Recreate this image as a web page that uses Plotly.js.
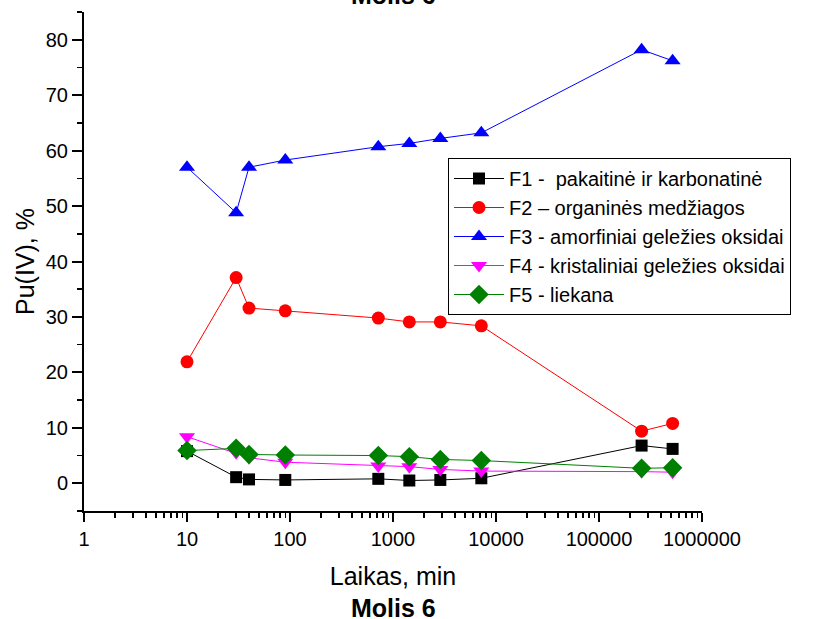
<!DOCTYPE html>
<html><head><meta charset="utf-8">
<script src="https://cdn.plot.ly/plotly-3.0.1.min.js"></script>
<style>body{margin:0;padding:0;background:#fff}#chart{width:822px;height:619px}</style>
</head><body><div id="chart"></div>
<script>
const time = [10, 30, 40, 90, 720, 1440, 2880, 7200, 259200, 518400];
const f1 = [5.8, 1.1, 0.7, 0.6, 0.8, 0.5, 0.6, 0.9, 6.8, 6.2];
const f2 = [21.9, 37.1, 31.6, 31.1, 29.8, 29.1, 29.1, 28.4, 9.4, 10.8];
const f3 = [57.0, 48.8, 57.0, 58.3, 60.7, 61.3, 62.2, 63.2, 78.2, 76.2];
const f4 = [8.4, 5.5, 4.6, 3.8, 3.1, 3.0, 2.5, 2.2, 2.1, 2.0];
const f5 = [5.9, 6.3, 5.2, 5.1, 5.0, 4.8, 4.3, 4.1, 2.7, 2.8];
const names = ["F1 -  pakaitinė ir karbonatinė", "F2 – organinės medžiagos", "F3 - amorfiniai geležies oksidai", "F4 - kristaliniai geležies oksidai", "F5 - liekana"];
const chartTitle = "Molis 6";
const xTitle = "Laikas, min";
const yTitle = "Pu(IV), %";

const styles = [
  {color:'#000000', symbol:'square', size:12},
  {color:'#ff0000', symbol:'circle', size:13},
  {color:'#0000ff', symbol:'triangle-up', size:14},
  {color:'#ff00ff', symbol:'triangle-down', size:14},
  {color:'#008000', symbol:'diamond', size:15}
];
const series = [f1, f2, f3, f4, f5];
const traces = series.map((ys, i) => ({
  x: time, y: ys, name: names[i], type: 'scatter', mode: 'lines+markers',
  line: {color: styles[i].color, width: 1},
  marker: {color: styles[i].color, symbol: styles[i].symbol, size: styles[i].size}
}));

const fam = '"Liberation Sans", Arial, sans-serif';
const F = (s) => ({family: fam, size: s, color: '#000'});
const layout = {
  width: 822, height: 619,
  margin: {l: 84, r: 120, t: 12, b: 108},
  paper_bgcolor: '#fff', plot_bgcolor: '#fff',
  font: F(20),
  showlegend: true,
  legend: {x: 0.589, y: 0.7074, xanchor: 'left', yanchor: 'top',
    bordercolor: '#000', borderwidth: 1, bgcolor: '#fff',
    font: F(20), tracegroupgap: 0, itemwidth: 50},
  xaxis: {type: 'log', range: [0, 6], dtick: 1, tickformat: 'd',
    showgrid: false, zeroline: false, showline: true, linecolor: '#000', linewidth: 2,
    ticks: 'outside', ticklen: 9, tickwidth: 2, tickcolor: '#000',
    minor: {ticks: 'outside', ticklen: 5, tickwidth: 1.5, tickcolor: '#000', showgrid: false},
    tickfont: F(20),
    title: {text: xTitle, font: F(25), standoff: 18}},
  yaxis: {range: [-5, 85], dtick: 10, tick0: 0,
    showgrid: false, zeroline: false, showline: true, linecolor: '#000', linewidth: 2,
    ticks: 'outside', ticklen: 10, tickwidth: 2, tickcolor: '#000',
    minor: {dtick: 5, ticks: 'outside', ticklen: 5, tickwidth: 1.5, tickcolor: '#000', showgrid: false},
    tickfont: F(20),
    title: {text: yTitle, font: F(25), standoff: 4}},
  annotations: [
    {text: '<b>' + chartTitle + '</b>', xref: 'paper', yref: 'paper', x: 0.5, y: -0.1944,
     xanchor: 'center', yanchor: 'middle', showarrow: false, font: F(25)},
    {text: '<b>' + chartTitle + '</b>', xref: 'paper', yref: 'paper', x: 0.5, y: 1.034,
     xanchor: 'center', yanchor: 'middle', showarrow: false, font: F(25)}
  ]
};
Plotly.newPlot('chart', traces, layout, {displayModeBar: false, staticPlot: true});
</script></body></html>
